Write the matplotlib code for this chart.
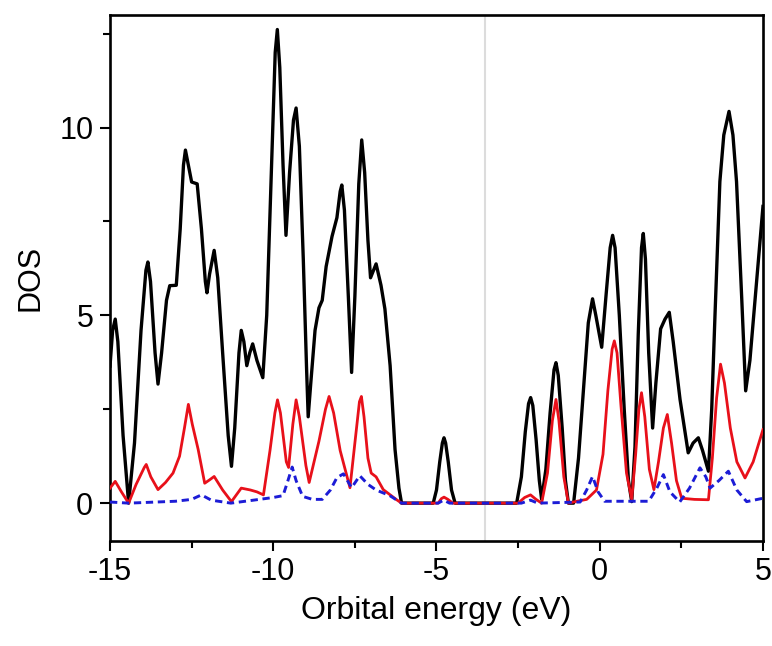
import matplotlib
matplotlib.use("Agg")
import matplotlib.pyplot as plt
from matplotlib.ticker import MultipleLocator

plt.rcParams['font.family'] = ['Liberation Sans', 'DejaVu Sans']

# Total DOS (black)
total_x = [-15.0, -14.92, -14.84, -14.76, -14.6, -14.43, -14.25, -14.05, -13.9, -13.84,
           -13.76, -13.62, -13.53, -13.42, -13.27, -13.17, -12.97, -12.85, -12.75, -12.69,
           -12.6, -12.5, -12.33, -12.2, -12.08, -12.03, -11.95, -11.81, -11.7, -11.55,
           -11.38, -11.28, -11.18, -11.05, -10.98, -10.9, -10.81, -10.72, -10.63, -10.5,
           -10.32, -10.2, -10.05, -9.94, -9.875, -9.8, -9.7, -9.61, -9.5, -9.38,
           -9.3, -9.2, -9.08, -8.98, -8.93, -8.85, -8.72, -8.6, -8.5, -8.38,
           -8.2, -8.05, -7.95, -7.9, -7.82, -7.7, -7.6, -7.5, -7.38, -7.29,
           -7.2, -7.1, -7.02, -6.93, -6.85, -6.7, -6.58, -6.42, -6.27, -6.15,
           -6.07, -5.1, -5.0, -4.9, -4.82, -4.77, -4.72, -4.64, -4.54, -4.43,
           -2.545, -2.4, -2.28, -2.18, -2.116, -2.05, -1.95, -1.85, -1.78, -1.65,
           -1.52, -1.4, -1.34, -1.27, -1.15, -1.05, -0.96, -0.8, -0.65, -0.5,
           -0.35, -0.22, -0.12, 0.06, 0.2, 0.32, 0.395, 0.47, 0.6, 0.75,
           0.88, 0.98, 1.08, 1.18, 1.28, 1.334, 1.4, 1.5, 1.62, 1.72,
           1.865, 2.0, 2.13, 2.25, 2.46, 2.71, 2.86, 3.02, 3.15, 3.33,
           3.43, 3.53, 3.68, 3.8, 3.96, 4.08, 4.19, 4.35, 4.47, 4.6,
           4.75, 5.0]
total_y = [3.65, 4.6, 4.9, 4.3, 1.8, 0.0, 1.6, 4.6, 6.2, 6.42,
           5.9, 4.0, 3.17, 4.0, 5.4, 5.79, 5.8, 7.3, 9.0, 9.4,
           9.0, 8.55, 8.5, 7.3, 5.9, 5.6, 6.1, 6.73, 6.0, 4.0,
           1.8, 0.98, 2.0, 4.0, 4.6, 4.3, 3.66, 4.0, 4.24, 3.8,
           3.34, 5.0, 9.0, 12.0, 12.61, 11.6, 9.0, 7.13, 8.8, 10.2,
           10.52, 9.5, 6.5, 3.6, 2.3, 3.2, 4.6, 5.2, 5.4, 6.3,
           7.1, 7.6, 8.3, 8.47, 7.8, 5.5, 3.48, 5.5, 8.5, 9.67,
           8.8, 7.0, 6.0, 6.2, 6.37, 5.8, 5.17, 3.66, 1.43, 0.4,
           0.0, 0.0, 0.35, 1.1, 1.6, 1.74, 1.6, 1.1, 0.35, 0.0,
           0.0, 0.7, 1.9, 2.65, 2.81, 2.6, 1.7, 0.6, 0.1, 0.9,
           2.4, 3.55, 3.74, 3.4, 2.0, 0.6, 0.0, 0.0, 1.2, 3.0,
           4.8, 5.44, 5.0, 4.15, 5.6, 6.8, 7.13, 6.8, 5.0, 2.5,
           0.6, 0.04, 1.5, 4.5, 6.8, 7.18, 6.5, 4.0, 2.0, 3.2,
           4.64, 4.9, 5.08, 4.3, 2.76, 1.34, 1.6, 1.74, 1.4, 0.85,
           2.5, 4.99, 8.56, 9.8, 10.43, 9.8, 8.56, 5.44, 2.99, 3.8,
           5.35, 7.9]

# Partial DOS (red)
red_x = [-15.0, -14.84, -14.65, -14.43, -14.2, -13.95, -13.89, -13.75, -13.53, -13.3,
         -13.07, -12.87, -12.72, -12.6, -12.48, -12.3, -12.1, -11.95, -11.81, -11.55,
         -11.28, -10.98, -10.7, -10.5, -10.3, -10.1, -9.95, -9.87, -9.78, -9.6,
         -9.53, -9.4, -9.3, -9.2, -9.0, -8.9, -8.75, -8.6, -8.4, -8.29,
         -8.15, -7.95, -7.65, -7.5, -7.36, -7.3, -7.22, -7.1, -7.0, -6.85,
         -6.63, -6.22, -6.07, -4.95, -4.85, -4.77, -4.65, -4.5, -2.5, -2.3,
         -2.12, -1.95, -1.78, -1.6, -1.45, -1.34, -1.25, -1.1, -0.96, -0.7,
         -0.4, -0.1, 0.1, 0.25, 0.38, 0.447, 0.53, 0.65, 0.82, 0.98,
         1.1, 1.2, 1.28, 1.38, 1.52, 1.66, 1.8, 1.95, 2.07, 2.2,
         2.35, 2.51, 2.9, 3.33, 3.45, 3.58, 3.7, 3.82, 4.0, 4.2,
         4.45, 4.7, 5.0]
red_y = [0.4, 0.58, 0.3, 0.0, 0.5, 0.95, 1.03, 0.7, 0.36, 0.55,
         0.8, 1.25, 2.0, 2.63, 2.1, 1.43, 0.53, 0.62, 0.71, 0.35,
         0.04, 0.4, 0.35, 0.3, 0.22, 1.4, 2.4, 2.75, 2.4, 1.1,
         0.95, 2.1, 2.75, 2.3, 1.0, 0.55, 1.1, 1.65, 2.5, 2.84,
         2.4, 1.4, 0.41, 1.6, 2.7, 2.84, 2.3, 1.2, 0.8, 0.7,
         0.36, 0.09, 0.0, 0.0, 0.12, 0.16, 0.1, 0.0, 0.0, 0.15,
         0.22, 0.1, 0.0, 0.8, 2.2, 2.76, 2.2, 0.7, 0.0, 0.05,
         0.1, 0.35, 1.3, 3.0, 4.1, 4.32, 4.0, 2.6, 0.8, 0.1,
         1.3, 2.5, 2.94, 2.3, 0.9, 0.36, 1.1, 2.0, 2.36, 1.6,
         0.6, 0.13, 0.1, 0.09, 1.2, 2.8, 3.7, 3.2, 2.0, 1.1,
         0.67, 1.1, 1.96]

# Partial DOS (blue dashed)
blue_x = [-15.0, -14.43, -13.0, -12.5, -12.2, -11.9, -11.3, -10.6, -10.0, -9.7,
          -9.55, -9.42, -9.3, -9.1, -8.8, -8.5, -8.25, -8.05, -7.85, -7.6,
          -7.35, -7.1, -6.85, -6.43, -6.07, -4.95, -4.78, -4.6, -2.4, -2.12,
          -1.9, -0.6, -0.4, -0.22, -0.05, 0.15, 1.5, 1.75, 1.95, 2.15,
          2.45, 2.75, 3.07, 3.25, 3.38, 3.65, 3.94, 4.2, 4.5, 5.0]
blue_y = [0.03, 0.0, 0.05, 0.1, 0.22, 0.08, 0.0, 0.08, 0.15, 0.2,
          0.6, 0.96, 0.6, 0.18, 0.1, 0.1, 0.35, 0.68, 0.78, 0.41,
          0.73, 0.5, 0.35, 0.2, 0.0, 0.0, 0.08, 0.0, 0.0, 0.08,
          0.0, 0.03, 0.35, 0.71, 0.3, 0.05, 0.05, 0.4, 0.76, 0.3,
          0.03, 0.4, 0.94, 0.7, 0.4, 0.6, 0.85, 0.35, 0.04, 0.13]

fermi_level = -3.52
x_ticks = [-15, -10, -5, 0, 5]
y_ticks = [0, 5, 10]

fig = plt.figure(figsize=(7.72, 6.46), dpi=100)
ax = fig.add_axes([0.1425, 0.163, 0.8458, 0.814])

ax.axvline(fermi_level, color='#dcdcdc', lw=1.5, zorder=1)
ax.plot(total_x, total_y, color='black', lw=2.4, zorder=3,
        solid_joinstyle='round')
ax.plot(red_x, red_y, color='#e8101a', lw=2.0, zorder=4,
        solid_joinstyle='round')
ax.plot(blue_x, blue_y, color='#1c1cd6', lw=2.1, ls=(0, (2.5, 1.6)), zorder=5)

ax.set_xlim(-15, 5)
ax.set_ylim(-1, 13)
ax.set_xticks(x_ticks)
ax.set_yticks(y_ticks)
ax.set_xticklabels([str(t) for t in x_ticks])
ax.xaxis.set_minor_locator(MultipleLocator(2.5))
ax.yaxis.set_minor_locator(MultipleLocator(2.5))
ax.tick_params(which='major', direction='out', length=7, width=1.5, labelsize=22, pad=5)
ax.tick_params(which='minor', direction='out', length=5, width=1.5)
for s in ax.spines.values():
    s.set_linewidth(1.9)

ax.set_xlabel('Orbital energy (eV)', fontsize=23, labelpad=6)
ax.set_ylabel('DOS', fontsize=22, labelpad=10)

fig.savefig('out.png', dpi=100)
